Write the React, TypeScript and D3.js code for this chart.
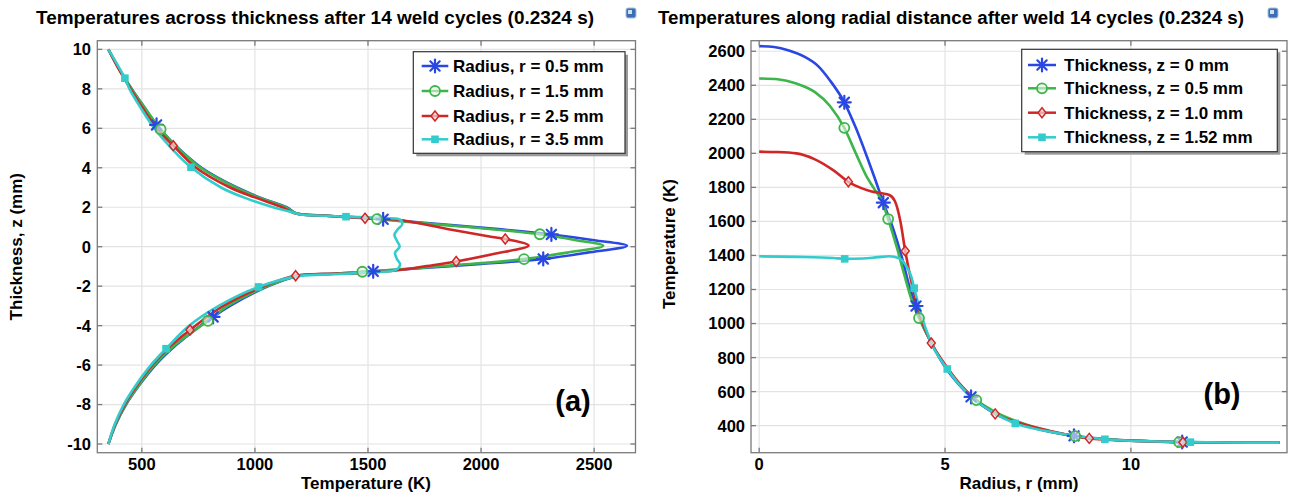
import React from "react";
import * as d3 from "d3";

const W = 1290;
const H = 493;
const FONT = "'Liberation Sans', Arial, Helvetica, sans-serif";

// ---------- Panel (a): Temperature (K) vs thickness z (mm) ----------
const leftTitle = "Temperatures across thickness after 14 weld cycles (0.2324 s)";
const leftXTicks = [500, 1000, 1500, 2000, 2500];
const leftYTicks = [-10, -8, -6, -4, -2, 0, 2, 4, 6, 8, 10];
const leftNames = ["Radius, r = 0.5 mm", "Radius, r = 1.5 mm", "Radius, r = 2.5 mm", "Radius, r = 3.5 mm"];

const leftR05: [number, number][] = [
  [352, 10], [400, 9], [455, 8], [515, 7], [565, 6.17], [578, 6], [660, 5], [764, 4], [920, 3], [1020, 2.5],
  [1140, 2], [1185, 1.68], [1300, 1.58], [1450, 1.49], [1567, 1.39], [1800, 1.16], [2037, 0.93], [2311, 0.62],
  [2500, 0.33], [2645, 0.05], [2470, -0.3], [2275, -0.62], [2000, -0.88], [1760, -1.07], [1523, -1.25],
  [1350, -1.37], [1200, -1.46], [1060, -2], [890, -3], [815, -3.56], [760, -4], [650, -5], [560, -6],
  [490, -7], [430, -8], [385, -9], [352, -10],
];
const leftR15: [number, number][] = [
  [352, 10], [400, 9], [455, 8], [515, 7], [583, 5.95], [660, 5], [760, 4], [915, 3], [1015, 2.5], [1135, 2],
  [1185, 1.68], [1300, 1.58], [1450, 1.48], [1540, 1.4], [1800, 1.13], [2037, 0.9], [2260, 0.63], [2420, 0.33],
  [2540, 0.05], [2380, -0.3], [2190, -0.63], [1900, -0.92], [1700, -1.1], [1475, -1.27], [1350, -1.37],
  [1200, -1.46], [1055, -2], [880, -3], [792, -3.76], [750, -4.1], [645, -5], [555, -6], [488, -7],
  [428, -8], [384, -9], [352, -10],
];
const leftR25: [number, number][] = [
  [352, 10], [398, 9], [450, 8], [505, 7], [565, 6], [639, 5.12], [740, 4], [890, 3], [1000, 2.5], [1120, 2],
  [1180, 1.68], [1300, 1.58], [1487, 1.44], [1640, 1.35], [1850, 0.9], [2037, 0.52], [2107, 0.39], [2210, 0.06],
  [2050, -0.38], [1890, -0.75], [1760, -0.98], [1640, -1.18], [1450, -1.35], [1180, -1.47], [1040, -2],
  [860, -3], [713, -4.22], [630, -5], [545, -6], [480, -7], [424, -8], [382, -9], [352, -10],
];
const leftR35: [number, number][] = [
  [352, 10], [425, 8.54], [445, 8], [497, 7], [555, 6], [630, 5], [717, 4.03], [850, 3], [950, 2.5], [1080, 2],
  [1155, 1.78], [1200, 1.63], [1300, 1.57], [1403, 1.52], [1560, 1.45], [1640, 1.38], [1652, 1.15], [1632, 0.88],
  [1617, 0.6], [1628, 0.3], [1640, 0.0], [1620, -0.3], [1628, -0.62], [1642, -0.9], [1625, -1.16], [1500, -1.3],
  [1350, -1.4], [1200, -1.48], [1016, -2.04], [840, -3], [710, -4], [607, -5.17], [540, -6], [475, -7],
  [420, -8], [380, -9], [352, -10],
];

const leftMkR05: [number, number][] = [[565, 6.17], [1567, 1.39], [2311, 0.62], [2275, -0.62], [1523, -1.25], [815, -3.56]];
const leftMkR15: [number, number][] = [[583, 5.95], [1540, 1.4], [2260, 0.63], [2190, -0.63], [1475, -1.27], [792, -3.76]];
const leftMkR25: [number, number][] = [[639, 5.12], [1487, 1.44], [2107, 0.39], [1890, -0.75], [1180, -1.47], [713, -4.22]];
const leftMkR35: [number, number][] = [[425, 8.54], [717, 4.03], [1403, 1.52], [1016, -2.04], [607, -5.17]];

// ---------- Panel (b): radius r (mm) vs Temperature (K) ----------
const rightTitle = "Temperatures along radial distance after weld 14 cycles (0.2324 s)";
const rightXTicks = [0, 5, 10];
const rightYTicks = [400, 600, 800, 1000, 1200, 1400, 1600, 1800, 2000, 2200, 2400, 2600];
const rightNames = ["Thickness, z = 0 mm", "Thickness, z = 0.5 mm", "Thickness, z = 1.0 mm", "Thickness, z = 1.52 mm"];

const rightZ0: [number, number][] = [
  [0, 2630], [0.4, 2625], [0.8, 2605], [1.2, 2570], [1.6, 2510], [1.9, 2430], [2.29, 2300], [2.6, 2150],
  [2.9, 1980], [3.1, 1860], [3.34, 1710], [3.6, 1560], [3.85, 1380], [4.05, 1210], [4.22, 1103], [4.4, 990],
  [4.6, 900], [4.9, 780], [5.3, 660], [5.7, 569], [6.2, 490], [6.8, 430], [7.5, 380], [8.47, 340], [9.5, 318],
  [10.5, 308], [11.38, 304], [12.5, 301], [14, 300],
];
const rightZ05: [number, number][] = [
  [0, 2440], [0.5, 2435], [1, 2410], [1.5, 2360], [1.9, 2280], [2.29, 2150], [2.6, 2000], [2.9, 1860],
  [3.1, 1790], [3.3, 1720], [3.47, 1614], [3.7, 1450], [3.9, 1290], [4.1, 1140], [4.3, 1032], [4.6, 900],
  [4.9, 785], [5.3, 665], [5.84, 550], [6.4, 475], [7.2, 405], [8.5, 338], [9.5, 318], [10.5, 308], [11.3, 303],
  [12.5, 301], [14, 300],
];
const rightZ10: [number, number][] = [
  [0, 2010], [0.5, 2008], [1, 2000], [1.5, 1965], [2, 1900], [2.4, 1833], [2.7, 1800], [3.0, 1778], [3.3, 1765],
  [3.5, 1755], [3.65, 1720], [3.8, 1600], [3.93, 1426], [4.1, 1240], [4.3, 1065], [4.63, 886], [5, 760],
  [5.5, 620], [6.35, 469], [7, 415], [7.8, 370], [8.88, 325], [10, 312], [11.4, 302], [12.5, 300], [14, 300],
];
const rightZ152: [number, number][] = [
  [0, 1395], [1, 1392], [2, 1385], [2.3, 1380], [2.8, 1382], [3.2, 1390], [3.5, 1395], [3.75, 1385],
  [3.95, 1340], [4.1, 1270], [4.17, 1208], [4.35, 1060], [4.6, 900], [5.06, 733], [5.6, 590], [6.2, 490],
  [6.89, 413], [7.8, 365], [9.3, 320], [10.5, 308], [11.6, 303], [12.5, 301], [14, 300],
];

const rightMkZ0: [number, number][] = [[2.29, 2300], [3.34, 1710], [4.22, 1103], [5.7, 569], [8.47, 340], [11.38, 304]];
const rightMkZ05: [number, number][] = [[2.29, 2150], [3.47, 1614], [4.3, 1032], [5.84, 550], [8.5, 338], [11.3, 303]];
const rightMkZ10: [number, number][] = [[2.4, 1833], [3.93, 1426], [4.63, 886], [6.35, 469], [8.88, 325], [11.4, 302]];
const rightMkZ152: [number, number][] = [[2.3, 1380], [4.17, 1208], [5.06, 733], [6.89, 413], [9.3, 320], [11.6, 303]];

const COLORS = ["#2a47e3", "#3db54a", "#cf2727", "#33cccc"];
const MARKERS = ["star", "circle", "diamond", "square"];

function Marker({ type, x, y, color }: { type: string; x: number; y: number; color: string }) {
  if (type === "star") {
    const s = 6.5;
    const d = s * 0.72;
    return (
      <g stroke={color} strokeWidth={2.2} strokeLinecap="round">
        <line x1={x - s} y1={y} x2={x + s} y2={y} />
        <line x1={x} y1={y - s} x2={x} y2={y + s} />
        <line x1={x - d} y1={y - d} x2={x + d} y2={y + d} />
        <line x1={x - d} y1={y + d} x2={x + d} y2={y - d} />
      </g>
    );
  }
  if (type === "circle") {
    return <circle cx={x} cy={y} r={5} fill="#e8f6ea" fillOpacity={0.6} stroke={color} strokeWidth={1.8} />;
  }
  if (type === "diamond") {
    const s = 5;
    return (
      <path
        d={`M${x},${y - s}L${x + s * 0.8},${y}L${x},${y + s}L${x - s * 0.8},${y}Z`}
        fill="#f7dada"
        fillOpacity={0.7}
        stroke={color}
        strokeWidth={1.5}
      />
    );
  }
  return <rect x={x - 3.8} y={y - 3.8} width={7.6} height={7.6} fill={color} />;
}

type Sc = d3.ScaleLinear<number, number>;

function Grid({ x0, x1, y0, y1, xs, ys, xTicks, yTicks }: {
  x0: number; x1: number; y0: number; y1: number; xs: Sc; ys: Sc; xTicks: number[]; yTicks: number[];
}) {
  return (
    <g>
      <rect x={x0} y={y0} width={x1 - x0} height={y1 - y0} fill="#fff" />
      {xTicks.map((t) => (
        <line key={"gx" + t} x1={xs(t)} x2={xs(t)} y1={y0} y2={y1} stroke="#e3e3e3" strokeWidth={1.2} />
      ))}
      {yTicks.map((t) => (
        <line key={"gy" + t} x1={x0} x2={x1} y1={ys(t)} y2={ys(t)} stroke="#e3e3e3" strokeWidth={1.2} />
      ))}
    </g>
  );
}

function Box({ x0, x1, y0, y1, xs, ys, xTicks, yTicks }: {
  x0: number; x1: number; y0: number; y1: number; xs: Sc; ys: Sc; xTicks: number[]; yTicks: number[];
}) {
  const tl = 5;
  const c = "#7a7a7a";
  return (
    <g stroke={c} strokeWidth={1.3}>
      <rect x={x0} y={y0} width={x1 - x0} height={y1 - y0} fill="none" />
      {xTicks.map((t) => (
        <g key={"tx" + t}>
          <line x1={xs(t)} x2={xs(t)} y1={y1} y2={y1 - tl} />
          <line x1={xs(t)} x2={xs(t)} y1={y0} y2={y0 + tl} />
        </g>
      ))}
      {yTicks.map((t) => (
        <g key={"ty" + t}>
          <line x1={x0} x2={x0 + tl} y1={ys(t)} y2={ys(t)} />
          <line x1={x1} x2={x1 - tl} y1={ys(t)} y2={ys(t)} />
        </g>
      ))}
    </g>
  );
}

function Icon({ x, y }: { x: number; y: number }) {
  return (
    <g>
      <rect x={x} y={y} width={10} height={10} rx={2} fill="#3b6fb5" stroke="#a9c1df" strokeWidth={1} />
      <rect x={x + 2} y={y + 2} width={4} height={4} fill="#cfe0f3" />
    </g>
  );
}

function Legend({ x, y, w, h, rows, names, textX, lineX0, lineX1, fs }: {
  x: number; y: number; w: number; h: number; rows: number[]; names: string[];
  textX: number; lineX0: number; lineX1: number; fs: number;
}) {
  return (
    <g>
      <rect x={x + 3} y={y + 3} width={w} height={h} fill="#9a9a9a" />
      <rect x={x} y={y} width={w} height={h} fill="#fff" stroke="#333" strokeWidth={1.2} />
      {names.map((n, i) => (
        <g key={n}>
          <line x1={lineX0} x2={lineX1} y1={rows[i]} y2={rows[i]} stroke={COLORS[i]} strokeWidth={2.5} />
          <Marker type={MARKERS[i]} x={(lineX0 + lineX1) / 2} y={rows[i]} color={COLORS[i]} />
          <text x={textX} y={rows[i]} dy="0.36em" fontFamily={FONT} fontWeight="bold" fontSize={fs} fill="#000">
            {n}
          </text>
        </g>
      ))}
    </g>
  );
}

export default function App() {
  const lx = d3.scaleLinear().domain([303, 2683]).range([97.3, 635.5]);
  const ly = d3.scaleLinear().domain([-10.44, 10.44]).range([452.7, 40.7]);
  const rx = d3.scaleLinear().domain([-0.22, 14.2]).range([751, 1287]);
  const ry = d3.scaleLinear().domain([241, 2662]).range([452.7, 40.7]);

  const leftLine = d3
    .line<[number, number]>()
    .x((d) => lx(d[0]))
    .y((d) => ly(d[1]))
    .curve(d3.curveCatmullRom.alpha(0.5));
  const rightLine = d3
    .line<[number, number]>()
    .x((d) => rx(d[0]))
    .y((d) => ry(d[1]))
    .curve(d3.curveMonotoneX);

  const leftSeries = [leftR05, leftR15, leftR25, leftR35];
  const leftMarks = [leftMkR05, leftMkR15, leftMkR25, leftMkR35];
  const rightSeries = [rightZ0, rightZ05, rightZ10, rightZ152];
  const rightMarks = [rightMkZ0, rightMkZ05, rightMkZ10, rightMkZ152];

  const tickFs = 16.5;
  const labFs = 17;
  const xTickY = 470;
  const xLabY = 489;

  return (
    <svg width={W} height={H} viewBox={`0 0 ${W} ${H}`} style={{ position: "absolute", left: 0, top: 0, background: "#fff" }}>
      <rect x={0} y={0} width={W} height={H} fill="#fff" />

      {/* ---------------- Panel (a) ---------------- */}
      <Grid x0={97.3} x1={635.5} y0={40.7} y1={452.7} xs={lx} ys={ly} xTicks={leftXTicks} yTicks={leftYTicks} />
      {leftSeries.map((s, i) => (
        <path key={"ls" + i} d={leftLine(s) || ""} fill="none" stroke={COLORS[i]} strokeWidth={2.6} strokeLinejoin="round" />
      ))}
      {leftMarks.map((ms, i) =>
        ms.map((m, j) => <Marker key={"lm" + i + "-" + j} type={MARKERS[i]} x={lx(m[0])} y={ly(m[1])} color={COLORS[i]} />)
      )}
      <Box x0={97.3} x1={635.5} y0={40.7} y1={452.7} xs={lx} ys={ly} xTicks={leftXTicks} yTicks={leftYTicks} />
      {leftXTicks.map((t) => (
        <text key={"lxl" + t} x={lx(t)} y={xTickY} textAnchor="middle" fontFamily={FONT} fontWeight="bold" fontSize={tickFs}>
          {t}
        </text>
      ))}
      {leftYTicks.map((t) => (
        <text key={"lyl" + t} x={91} y={ly(t)} dy="0.36em" textAnchor="end" fontFamily={FONT} fontWeight="bold" fontSize={tickFs}>
          {t}
        </text>
      ))}
      <text x={366} y={xLabY} textAnchor="middle" fontFamily={FONT} fontWeight="bold" fontSize={labFs}>
        Temperature (K)
      </text>
      <text transform={`translate(22,246.7) rotate(-90)`} textAnchor="middle" fontFamily={FONT} fontWeight="bold" fontSize={labFs}>
        Thickness, z (mm)
      </text>
      <text x={36} y={24} textLength={558} lengthAdjust="spacingAndGlyphs" fontFamily={FONT} fontWeight="bold" fontSize={18}>
        {leftTitle}
      </text>
      <Icon x={626} y={8} />
      <Legend
        x={413.3}
        y={51.7}
        w={211.7}
        h={101.6}
        rows={[66, 91, 116, 139.3]}
        names={leftNames}
        textX={453}
        lineX0={421.7}
        lineX1={448.3}
        fs={17}
      />
      <text x={573} y={411} textAnchor="middle" fontFamily={FONT} fontWeight="bold" fontSize={29}>
        (a)
      </text>

      {/* ---------------- Panel (b) ---------------- */}
      <Grid x0={751} x1={1287} y0={40.7} y1={452.7} xs={rx} ys={ry} xTicks={rightXTicks} yTicks={rightYTicks} />
      {rightSeries.map((s, i) => (
        <path key={"rs" + i} d={rightLine(s) || ""} fill="none" stroke={COLORS[i]} strokeWidth={2.6} strokeLinejoin="round" />
      ))}
      {rightMarks.map((ms, i) =>
        ms.map((m, j) => <Marker key={"rm" + i + "-" + j} type={MARKERS[i]} x={rx(m[0])} y={ry(m[1])} color={COLORS[i]} />)
      )}
      <Box x0={751} x1={1287} y0={40.7} y1={452.7} xs={rx} ys={ry} xTicks={rightXTicks} yTicks={rightYTicks} />
      {rightXTicks.map((t) => (
        <text key={"rxl" + t} x={rx(t)} y={xTickY} textAnchor="middle" fontFamily={FONT} fontWeight="bold" fontSize={tickFs}>
          {t}
        </text>
      ))}
      {rightYTicks.map((t) => (
        <text key={"ryl" + t} x={745} y={ry(t)} dy="0.36em" textAnchor="end" fontFamily={FONT} fontWeight="bold" fontSize={tickFs}>
          {t}
        </text>
      ))}
      <text x={1019} y={xLabY} textAnchor="middle" fontFamily={FONT} fontWeight="bold" fontSize={labFs}>
        Radius, r (mm)
      </text>
      <text transform={`translate(675,244) rotate(-90)`} textAnchor="middle" fontFamily={FONT} fontWeight="bold" fontSize={labFs}>
        Temperature (K)
      </text>
      <text x={658} y={24} textLength={586} lengthAdjust="spacingAndGlyphs" fontFamily={FONT} fontWeight="bold" fontSize={18}>
        {rightTitle}
      </text>
      <Icon x={1268} y={8} />
      <Legend
        x={1021.7}
        y={49.3}
        w={255.6}
        h={102.4}
        rows={[65, 88.3, 112.7, 137.3]}
        names={rightNames}
        textX={1064}
        lineX0={1028}
        lineX1={1056}
        fs={17}
      />
      <text x={1222} y={404} textAnchor="middle" fontFamily={FONT} fontWeight="bold" fontSize={29}>
        (b)
      </text>
    </svg>
  );
}
